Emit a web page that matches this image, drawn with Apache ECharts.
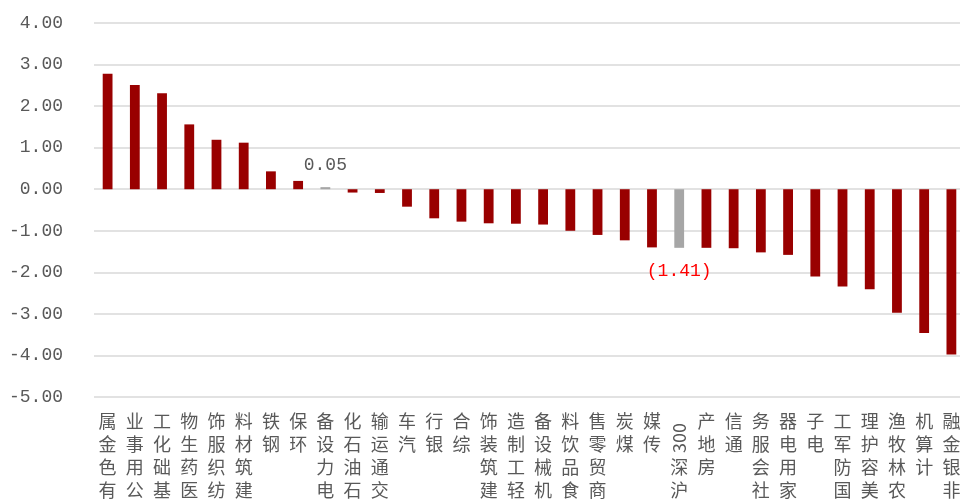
<!DOCTYPE html>
<html>
<head>
<meta charset="utf-8">
<script src="https://cdn.jsdelivr.net/npm/echarts@6/dist/echarts.min.js"></script>
<style>html,body{margin:0;padding:0;background:#fff;}#c{width:960px;height:499px;}</style>
</head>
<body>
<div id="c"></div>
<script>
const categories = ['有色金属','公用事业','基础化工','医药生物','纺织服饰','建筑材料','钢铁','环保','电力设备','石油石化','交通运输','汽车','银行','综合','建筑装饰','轻工制造','机械设备','食品饮料','商贸零售','煤炭','传媒','沪深300','房地产','通信','社会服务','家用电器','电子','国防军工','美容护理','农林牧渔','计算机','非银金融'];
const values = [2.78,2.51,2.31,1.56,1.19,1.12,0.43,0.20,0.05,-0.08,-0.09,-0.42,-0.70,-0.78,-0.82,-0.83,-0.85,-1.00,-1.10,-1.23,-1.40,-1.41,-1.41,-1.42,-1.52,-1.58,-2.10,-2.34,-2.41,-2.97,-3.46,-3.98];
const highlighted = ['电力设备','沪深300'];
const yTicks = { min: -5, max: 4, step: 1 };

const latinTail = /^(.*?)([0-9A-Za-z]+)$/;
function stackLabel(v) {
  const m = v.match(latinTail);
  if (m) return '\n\n' + Array.from(m[1]).reverse().join('\n');
  return Array.from(v).reverse().join('\n');
}
function tailLabel(v) {
  const m = v.match(latinTail);
  return m ? m[2] : '';
}

const chart = echarts.init(document.getElementById('c'), null, {renderer: 'canvas'});
const data = values.map((v, i) => {
  const hi = highlighted.indexOf(categories[i]) >= 0;
  const item = { value: v };
  if (hi) {
    item.itemStyle = { color: '#A6A6A6' };
    item.label = {
      show: true,
      position: v >= 0 ? 'top' : 'bottom',
      distance: v >= 0 ? 13 : 14,
      color: v >= 0 ? '#595959' : '#FF0000'
    };
  }
  return item;
});

chart.setOption({
  animation: false,
  backgroundColor: '#ffffff',
  grid: { left: 94, right: -5, top: 23, bottom: 102, containLabel: false, outerBoundsMode: 'none' },
  xAxis: [{
    type: 'category',
    data: categories,
    position: 'bottom',
    axisLine: { show: false, onZero: false },
    axisTick: { show: false },
    splitLine: { show: false },
    axisLabel: {
      interval: 0,
      margin: 13,
      color: '#595959',
      fontSize: 18,
      lineHeight: 23,
      fontFamily: 'Noto Sans CJK SC',
      formatter: stackLabel
    }
  }, {
    type: 'category',
    data: categories,
    position: 'bottom',
    offset: 0,
    axisLine: { show: false, onZero: false },
    axisTick: { show: false },
    splitLine: { show: false },
    axisLabel: {
      interval: 0,
      rotate: 90,
      margin: 26,
      color: '#595959',
      fontSize: 18,
      fontFamily: 'Noto Sans CJK SC',
      formatter: tailLabel
    }
  }],
  yAxis: {
    type: 'value',
    min: yTicks.min,
    max: yTicks.max,
    interval: yTicks.step,
    axisLine: { show: false },
    axisTick: { show: false },
    splitLine: { lineStyle: { color: '#D9D9D9', width: 1.5 } },
    axisLabel: {
      margin: 31,
      color: '#595959',
      fontSize: 18,
      fontFamily: 'Liberation Mono',
      formatter: v => v.toFixed(2)
    }
  },
  series: [{
    type: 'bar',
    xAxisIndex: 0,
    data: data,
    barWidth: '36%',
    itemStyle: { color: '#990000' },
    label: {
      show: false,
      fontSize: 18,
      fontFamily: 'Liberation Mono',
      formatter: p => p.value < 0 ? '(' + Math.abs(p.value).toFixed(2) + ')' : p.value.toFixed(2)
    }
  }]
});
</script>
</body>
</html>
